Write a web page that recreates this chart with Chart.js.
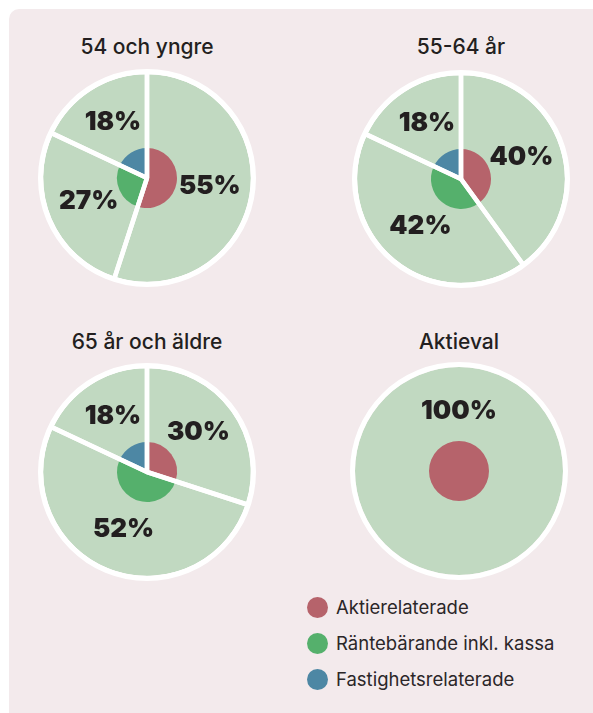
<!DOCTYPE html>
<html>
<head>
<meta charset="utf-8">
<script src="https://cdn.jsdelivr.net/npm/chart.js@4.4.0/dist/chart.umd.min.js"></script>
<style>
  body { margin: 0; background: #fff; width: 593px; height: 713px; overflow: hidden; font-family: Inter, 'Noto Sans', sans-serif; }
  #panel { position: absolute; left: 9px; top: 9px; width: 620px; height: 740px; background: #f3eaec; border-radius: 10px; }
  .title { position: absolute; width: 260px; text-align: center; font-size: 21px; font-weight: 500; color: #231f20; }
  canvas { position: absolute; }
  #legend { position: absolute; left: 307px; top: 589px; font-size: 18.5px; color: #2b2628; }
  #legend div { height: 36px; display: flex; align-items: center; }
  #legend span.dot { width: 21px; height: 21px; border-radius: 50%; margin-right: 8px; display: inline-block; }
</style>
</head>
<body>
<div id="panel"></div>
<div id="legend"></div>
<script>
// data
var groups = ['54 och yngre', '55-64 år', '65 år och äldre', 'Aktieval'];
var categories = ['Aktierelaterade', 'Räntebärande inkl. kassa', 'Fastighetsrelaterade'];
var aktier = [55, 40, 30, 100];
var ranta = [27, 42, 52, 0];
var fastighet = [18, 18, 18, 0];

var colors = ['#b6636b', '#55b06c', '#4d87a4'];
var paleGreen = '#c1d9c1';

// pie centres on the page
var centres = [[147, 178], [461, 179], [147, 472], [459, 471]];

var pctLabels = {
  id: 'pctLabels',
  afterDatasetsDraw: function(chart) {
    var ctx = chart.ctx;
    var meta = chart.getDatasetMeta(0);
    var values = chart.data.datasets[0].data;
    ctx.save();
    ctx.font = '900 26px Inter';
    ctx.fillStyle = '#231f20';
    ctx.textAlign = 'center';
    ctx.textBaseline = 'middle';
    meta.data.forEach(function(arc, i) {
      if (!values[i]) return;
      var p = arc.getProps(['x', 'y', 'startAngle', 'endAngle', 'outerRadius']);
      var a = (p.startAngle + p.endAngle) / 2;
      var f = 0.6;
      if (p.endAngle - p.startAngle >= Math.PI * 2 - 0.001) {
        a = -Math.PI / 2;
        f = 0.55;
      }
      ctx.fillText(values[i] + '%', p.x + Math.cos(a) * p.outerRadius * f, p.y + Math.sin(a) * p.outerRadius * f - 2);
    });
    ctx.restore();
  }
};

function baseOptions(radius) {
  return {
    responsive: false,
    animation: false,
    events: [],
    radius: radius,
    layout: { padding: 0 },
    plugins: { legend: { display: false }, tooltip: { enabled: false } }
  };
}

function addCanvas(cx, cy) {
  var c = document.createElement('canvas');
  c.width = 240;
  c.height = 240;
  c.style.left = (cx - 120) + 'px';
  c.style.top = (cy - 120) + 'px';
  document.body.appendChild(c);
  return c.getContext('2d');
}

function getPie(i) {
  var values = [aktier[i], ranta[i], fastighet[i]];
  var cx = centres[i][0], cy = centres[i][1];
  var nonZero = values.filter(function(v) { return v > 0; }).length;

  var t = document.createElement('div');
  t.className = 'title';
  t.textContent = groups[i];
  t.style.left = (cx - 130) + 'px';
  t.style.top = (i < 2 ? 34 : 329) + 'px';
  document.body.appendChild(t);

  // pale pie with white ring
  new Chart(addCanvas(cx, cy), {
    type: 'pie',
    data: {
      labels: categories,
      datasets: [
        { data: [1], backgroundColor: '#ffffff', borderWidth: 0, weight: 5 },
        { data: values, backgroundColor: paleGreen, borderWidth: 0, weight: 104 }
      ]
    },
    options: baseOptions(109)
  });

  // small coloured pie in the middle
  new Chart(addCanvas(cx, cy), {
    type: 'pie',
    data: {
      labels: categories,
      datasets: [{ data: values, backgroundColor: colors, borderWidth: 0 }]
    },
    options: baseOptions(30)
  });

  // white dividers + labels
  new Chart(addCanvas(cx, cy), {
    type: 'pie',
    data: {
      labels: categories,
      datasets: [{
        data: values,
        backgroundColor: 'rgba(0,0,0,0)',
        borderColor: '#ffffff',
        borderWidth: nonZero > 1 ? 4.5 : 0
      }]
    },
    options: baseOptions(106),
    plugins: [pctLabels]
  });
}

function getLegend() {
  var el = document.getElementById('legend');
  categories.forEach(function(name, i) {
    var row = document.createElement('div');
    var dot = document.createElement('span');
    dot.className = 'dot';
    dot.style.background = colors[i];
    row.appendChild(dot);
    row.appendChild(document.createTextNode(name));
    el.appendChild(row);
  });
}

groups.forEach(function(g, i) { getPie(i); });
getLegend();
</script>
</body>
</html>
